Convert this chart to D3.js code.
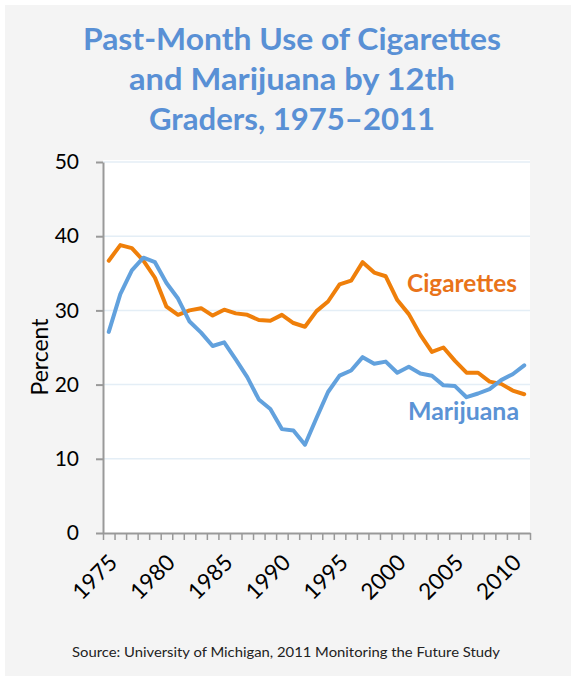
<!DOCTYPE html>
<html>
<head>
<meta charset="utf-8">
<script src="https://cdn.jsdelivr.net/npm/d3@7"></script>
<style>
  body { margin: 0; background: #fff; }
  svg { display: block; font-family: Lato, "Open Sans", sans-serif; }
</style>
</head>
<body>
<div id="chart"></div>
<script>
// MTF 30-day prevalence, 12th graders
const years = d3.range(1975, 2012);
const cigarettes = [36.7, 38.8, 38.4, 36.7, 34.4, 30.5, 29.4, 30.0, 30.3, 29.3,
  30.1, 29.6, 29.4, 28.7, 28.6, 29.4, 28.3, 27.8, 29.9, 31.2,
  33.5, 34.0, 36.5, 35.1, 34.6, 31.4, 29.5, 26.7, 24.4, 25.0,
  23.2, 21.6, 21.6, 20.4, 20.1, 19.2, 18.7];
const marijuana = [27.1, 32.2, 35.4, 37.1, 36.5, 33.7, 31.6, 28.5, 27.0, 25.2,
  25.7, 23.4, 21.0, 18.0, 16.7, 14.0, 13.8, 11.9, 15.5, 19.0,
  21.2, 21.9, 23.7, 22.8, 23.1, 21.6, 22.4, 21.5, 21.2, 19.9,
  19.8, 18.3, 18.8, 19.4, 20.6, 21.4, 22.6];
const yTicks = [0, 10, 20, 30, 40, 50];
const xLabelYears = [1975, 1980, 1985, 1990, 1995, 2000, 2005, 2010];
const titleLines = ["Past-Month Use of Cigarettes", "and Marijuana by 12th", "Graders, 1975\u20132011"];

const W = 576, H = 681;
const plot = { left: 103, right: 530, top: 162, bottom: 533 };

const svg = d3.select("#chart").append("svg")
  .attr("width", W).attr("height", H);

// gray panel
svg.append("rect")
  .attr("x", 5).attr("y", 5)
  .attr("width", W - 10).attr("height", H - 10)
  .attr("fill", "#f4f4f4");

// plot area
svg.append("rect")
  .attr("x", plot.left).attr("y", plot.top - 2)
  .attr("width", plot.right - plot.left).attr("height", plot.bottom - plot.top + 2)
  .attr("fill", "#ffffff");

const x = d3.scaleBand().domain(years).range([plot.left, plot.right]).padding(0);
const xEdge = d3.scaleLinear().domain([0, years.length]).range([plot.left, plot.right]);
const y = d3.scaleLinear().domain([0, 50]).range([plot.bottom, plot.top]);
const cx = (yr) => x(yr) + x.bandwidth() / 2;

// gridlines
svg.append("g")
  .selectAll("line")
  .data(yTicks.filter((d) => d > 0))
  .join("line")
  .attr("x1", plot.left).attr("x2", plot.right)
  .attr("y1", (d) => y(d)).attr("y2", (d) => y(d))
  .attr("stroke", "#e4eef6")
  .attr("stroke-width", 1.5);

// title
svg.append("g")
  .selectAll("text")
  .data(titleLines)
  .join("text")
  .attr("x", 292)
  .attr("y", (d, i) => 50 + i * 40)
  .attr("text-anchor", "middle")
  .attr("fill", "#5990d5")
  .attr("font-weight", "bold")
  .attr("font-size", 30)
  .attr("textLength", (d, i) => [418, 326, 286][i])
  .attr("lengthAdjust", "spacingAndGlyphs")
  .text((d) => d);

// y axis
const yAxis = svg.append("g")
  .attr("transform", `translate(${plot.left},0)`)
  .call(d3.axisLeft(y).tickValues(yTicks).tickSize(7).tickSizeOuter(0).tickPadding(17));
yAxis.select(".domain").attr("stroke", "#999").attr("stroke-width", 2);
yAxis.selectAll(".tick line").attr("stroke", "#999").attr("stroke-width", 2);
yAxis.selectAll(".tick text")
  .attr("font-family", "Lato, sans-serif")
  .attr("font-size", 21)
  .attr("fill", "#000");

// x axis (ticks between categories)
const xAxis = svg.append("g")
  .attr("transform", `translate(0,${plot.bottom})`)
  .call(d3.axisBottom(xEdge).tickValues(d3.range(years.length + 1)).tickFormat("").tickSize(7).tickSizeOuter(0));
xAxis.select(".domain").attr("stroke", "#999").attr("stroke-width", 2);
xAxis.selectAll(".tick line").attr("stroke", "#999").attr("stroke-width", 1.5);

svg.append("g")
  .selectAll("text")
  .data(xLabelYears)
  .join("text")
  .attr("transform", (d) => `translate(${cx(d) + 10},${plot.bottom + 31}) rotate(-45)`)
  .attr("text-anchor", "end")
  .attr("font-size", 22.5)
  .attr("fill", "#000")
  .text((d) => d);

// y label
svg.append("text")
  .attr("transform", "translate(48,357) rotate(-90)")
  .attr("text-anchor", "middle")
  .attr("font-size", 23)
  .attr("fill", "#000")
  .text("Percent");

// lines
const line = d3.line()
  .x((d, i) => cx(years[i]))
  .y((d) => y(d));

svg.append("path")
  .datum(cigarettes)
  .attr("d", line)
  .attr("fill", "none")
  .attr("stroke", "#ef7f0a")
  .attr("stroke-width", 4)
  .attr("stroke-linejoin", "round")
  .attr("stroke-linecap", "round");

svg.append("path")
  .datum(marijuana)
  .attr("d", line)
  .attr("fill", "none")
  .attr("stroke", "#62a1dd")
  .attr("stroke-width", 4)
  .attr("stroke-linejoin", "round")
  .attr("stroke-linecap", "round");

// series labels
svg.append("text")
  .attr("x", 407).attr("y", 292)
  .attr("font-size", 24).attr("font-weight", "bold")
  .attr("fill", "#e9731a")
  .attr("textLength", 110).attr("lengthAdjust", "spacingAndGlyphs")
  .text("Cigarettes");

svg.append("text")
  .attr("x", 408).attr("y", 420)
  .attr("font-size", 24).attr("font-weight", "bold")
  .attr("fill", "#5b93d5")
  .attr("textLength", 111).attr("lengthAdjust", "spacingAndGlyphs")
  .text("Marijuana");

// source
svg.append("text")
  .attr("x", 286).attr("y", 657)
  .attr("text-anchor", "middle")
  .attr("font-size", 13.5)
  .attr("fill", "#222")
  .attr("textLength", 428).attr("lengthAdjust", "spacingAndGlyphs")
  .text("Source: University of Michigan, 2011 Monitoring the Future Study");
</script>
</body>
</html>
